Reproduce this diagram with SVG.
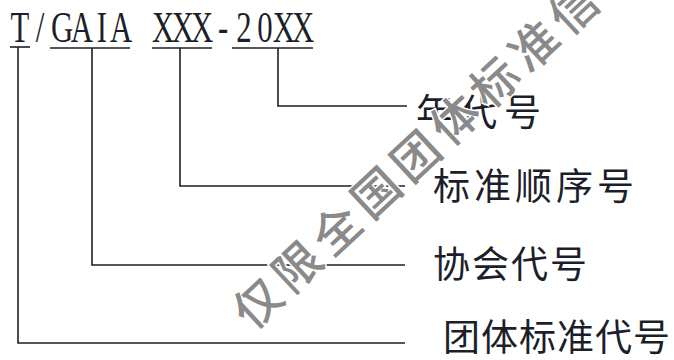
<svg xmlns="http://www.w3.org/2000/svg" width="674" height="360" viewBox="0 0 674 360">
<style>
.code{font-family:"Liberation Serif","DejaVu Serif",serif;font-size:44px;fill:#1c1f2a;text-anchor:middle}
.lbl{font-family:"Noto Sans CJK SC","Noto Sans",sans-serif;font-size:37px;fill:#1c1f2a}
.ln{stroke:#1c1f2a;stroke-width:1.6;fill:none}
.wm{font-family:"Noto Sans CJK SC","Noto Sans",sans-serif;font-size:47px;font-weight:500;fill:#8a8a8a;stroke:#fff;stroke-width:3;paint-order:stroke;letter-spacing:7px}
</style>
<rect width="674" height="360" fill="#fff"/>
<g id="code">
<text class="code" transform="scale(0.7,1)" y="42" x="28.6 57.1 88.6 117.1 145.7 172.9 232.9 261.4 288.6 318.6 348.6 378.6 405.7 432.9">T/GAIAXXX-20XX</text>
<g class="ln">
<line x1="10" y1="47" x2="30" y2="47"/>
<line x1="50" y1="48" x2="130" y2="48"/>
<line x1="152" y1="48" x2="212" y2="48"/>
<line x1="232" y1="48" x2="313" y2="48"/>
</g>
</g>
<g id="connectors" class="ln">
<polyline points="278,48 278,106 407,106"/>
<polyline points="180,48 180,186 405,186"/>
<polyline points="92,48 92,265 405,265"/>
<polyline points="18,47 18,343 405,343"/>
</g>
<g id="label-year"><text class="lbl" x="416" y="126" letter-spacing="7">年代号</text></g>
<g id="label-seq"><text class="lbl" x="433" y="200" letter-spacing="4">标准顺序号</text></g>
<g id="label-assoc"><text class="lbl" x="433" y="278" letter-spacing="2">协会代号</text></g>
<g id="label-group"><text class="lbl" x="443" y="351" font-size="36" letter-spacing="1">团体标准代号</text></g>
<g id="watermark"><text class="wm" transform="translate(259,304) rotate(-43)" x="-24" y="16">仅限全国团体标准信息</text></g>
</svg>
